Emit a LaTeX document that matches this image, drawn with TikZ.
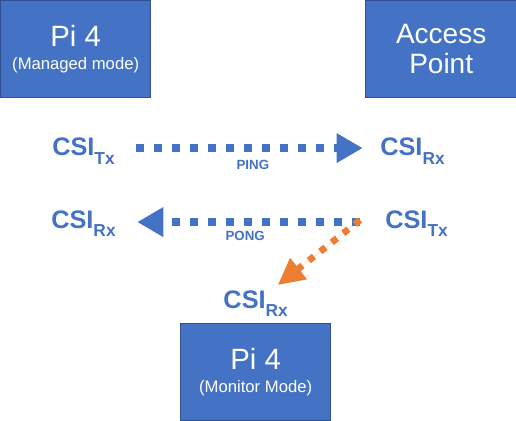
\documentclass[tikz,border=0pt]{standalone}
\usepackage{fontspec}
\setmainfont{Liberation Sans}
\usetikzlibrary{positioning, arrows.meta}
\definecolor{boxblue}{HTML}{4472C4}
\definecolor{boxedge}{HTML}{2F528F}
\definecolor{floworange}{HTML}{ED7D31}
\newcommand{\csi}[1]{\bfseries CSI\raisebox{-6.5pt}{\fontsize{13}{13}\selectfont #1}}

\begin{document}
\begin{tikzpicture}[x=0.75pt,y=-0.75pt,
  device/.style={draw=boxedge,line width=1pt,fill=boxblue,text=white,
    minimum width=112.5pt,minimum height=72.75pt,align=center,
    anchor=north west,inner sep=0pt,font=\fontsize{12.5}{17.5}\selectfont},
  csilabel/.style={text=boxblue,font=\fontsize{19}{19}\selectfont,
    inner sep=0pt,anchor=base west},
  flow/.style={draw=boxblue,line width=6pt,dash pattern=on 6pt off 7.5pt,
    -{Triangle[length=19.5pt,width=21pt]}},
  flowlabel/.style={text=boxblue,font=\fontsize{10}{10}\selectfont\bfseries,inner sep=0pt}]

\useasboundingbox (0,0) rectangle (516,420);

% devices
\node[device] (piA) at (0,0) {{\fontsize{22}{17.5}\selectfont Pi 4}\\(Managed mode)};
\node[device,minimum width=113.25pt,font=\fontsize{21}{23}\selectfont] (ap) at (365,0) {Access\\Point};
\node[device] (piM) at (180,323) {{\fontsize{22}{17.5}\selectfont Pi 4}\\(Monitor Mode)};

% csi ends
\node[csilabel] (txA) at (52,156) {\csi{Tx}};
\node[csilabel] (rxA) at (380,156) {\csi{Rx}};
\node[csilabel] (rxB) at (51,228) {\csi{Rx}};
\node[csilabel] (txB) at (385,228) {\csi{Tx}};
\node[csilabel,above=4.5pt of piM] (rxC) {\csi{Rx}};

% ping / pong
\draw[flow,shorten <=16pt,shorten >=13pt] ([yshift=3.3pt]txA.mid east) -- ([yshift=3.3pt]rxA.mid west)
  node[flowlabel,midway,below=6pt,xshift=4pt] {PING};
\draw[flow,shorten <=19pt,shorten >=16pt] ([yshift=1.8pt]txB.mid west) -- ([yshift=1.8pt]rxB.mid east)
  node[flowlabel,midway,below=4pt,xshift=-4pt] {PONG};
\draw[flow,draw=floworange,fill=floworange,line width=5pt,dash pattern=on 5pt off 6pt,
  -{Triangle[length=20pt,width=19pt]}]
  ([xshift=-18.75pt,yshift=3.3pt]txB.mid west) -- ([xshift=16.5pt,yshift=3.75pt]rxC.north);
\end{tikzpicture}
\end{document}
